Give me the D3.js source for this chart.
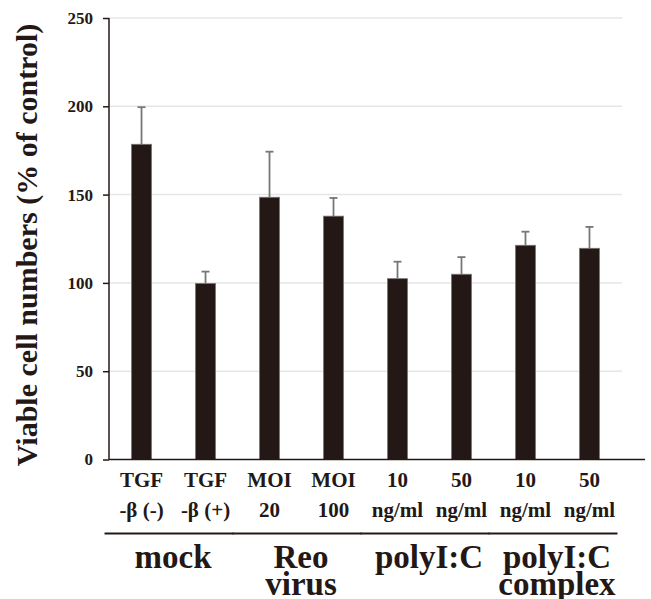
<!DOCTYPE html>
<html>
<head>
<meta charset="utf-8">
<script src="https://cdn.jsdelivr.net/npm/d3@7"></script>
<style>
  body { margin: 0; background: #fff; }
  svg text { font-family: "Liberation Serif", "Times New Roman", serif; font-weight: bold; fill: #231815; }
</style>
</head>
<body>
<svg width="651" height="599"></svg>
<script>
// bar labels (two lines each), values and upper error
const line1 = ["TGF", "TGF", "MOI", "MOI", "10", "50", "10", "50"];
const line2 = ["-\u03b2 (-)", "-\u03b2 (+)", "20", "100", "ng/ml", "ng/ml", "ng/ml", "ng/ml"];
const values = [178.5, 99.7, 148.5, 137.8, 102.4, 104.9, 121.3, 119.6];
const errors = [21, 6.7, 25.8, 10.3, 9.6, 9.7, 7.7, 12.1];
const groups = [["mock"], ["Reo", "virus"], ["polyI:C"], ["polyI:C", "complex"]];
const groupSpans = [[0, 1], [2, 3], [4, 5], [6, 7]];
const yTicks = [0, 50, 100, 150, 200, 250];

const dark = "#231815";
const svg = d3.select("svg");

const x = d3.scaleBand()
    .domain(d3.range(values.length))
    .range([109, 622])
    .paddingInner(0.6875)
    .paddingOuter(0.352);

const y = d3.scaleLinear()
    .domain([0, 250])
    .range([459.5, 18]);

// gridlines
svg.append("g")
    .selectAll("line")
    .data(yTicks.slice(1))
    .join("line")
    .attr("x1", 109)
    .attr("x2", 622)
    .attr("y1", d => y(d))
    .attr("y2", d => y(d))
    .attr("stroke", "#e6e6e6")
    .attr("stroke-width", 1.5);

// y axis
const yAxis = svg.append("g")
    .attr("transform", "translate(109,0)")
    .call(d3.axisLeft(y).tickValues(yTicks).tickSize(6).tickPadding(10));
yAxis.select(".domain").attr("stroke", dark).attr("stroke-width", 1.5).attr("d", `M0,${y(250)}V${y(0)}`);
yAxis.selectAll(".tick line").attr("stroke", dark).attr("stroke-width", 1.5);
yAxis.selectAll(".tick text")
    .attr("fill", dark)
    .style("font-size", "17px")
    .style("font-family", "'Liberation Serif', serif")
    .style("font-weight", "bold");

// bars
svg.append("g")
    .selectAll("rect")
    .data(values)
    .join("rect")
    .attr("x", (d, i) => x(i))
    .attr("width", x.bandwidth())
    .attr("y", d => y(d))
    .attr("height", d => y(0) - y(d))
    .attr("fill", dark)
    .attr("stroke", "#777")
    .attr("stroke-width", 0.8);

// error bars (upper only)
const err = svg.append("g").attr("stroke", "#777").attr("stroke-width", 1.8);
values.forEach((v, i) => {
    const cx = x(i) + x.bandwidth() / 2;
    err.append("line")
        .attr("x1", cx).attr("x2", cx)
        .attr("y1", y(v)).attr("y2", y(v + errors[i]));
    err.append("line")
        .attr("x1", cx - 4).attr("x2", cx + 4)
        .attr("y1", y(v + errors[i])).attr("y2", y(v + errors[i]));
});

// x axis baseline
svg.append("line")
    .attr("x1", 109).attr("x2", 645)
    .attr("y1", y(0)).attr("y2", y(0))
    .attr("stroke", dark)
    .attr("stroke-width", 1.5);

// bar labels
const lab = svg.append("g").attr("text-anchor", "middle").style("font-size", "21px");
lab.selectAll("text.l1")
    .data(line1)
    .join("text")
    .attr("class", "l1")
    .attr("x", (d, i) => x(i) + x.bandwidth() / 2)
    .attr("y", 486.5)
    .text(d => d);
lab.selectAll("text.l2")
    .data(line2)
    .join("text")
    .attr("class", "l2")
    .attr("x", (d, i) => x(i) + x.bandwidth() / 2)
    .attr("y", 516.5)
    .text(d => d);

// group lines and labels
const gl = svg.append("g");
groupSpans.forEach(([a, b], i) => {
    const x0 = x(a) - 27;
    const x1 = x(b) + x.bandwidth() + 18;
    gl.append("line")
        .attr("x1", x0).attr("x2", x1)
        .attr("y1", 533.5).attr("y2", 533.5)
        .attr("stroke", dark)
        .attr("stroke-width", 2);
    const t = gl.append("text")
        .attr("text-anchor", "middle")
        .style("font-size", "33px");
    groups[i].forEach((s, k) => {
        t.append("tspan")
            .attr("x", (x0 + x1) / 2 + 4)
            .attr("y", 568 + k * 27)
            .text(s);
    });
});

// y axis title
svg.append("text")
    .attr("transform", "translate(37,245) rotate(-90)")
    .attr("text-anchor", "middle")
    .style("font-size", "30px")
    .text("Viable cell numbers (% of control)");
</script>
</body>
</html>
